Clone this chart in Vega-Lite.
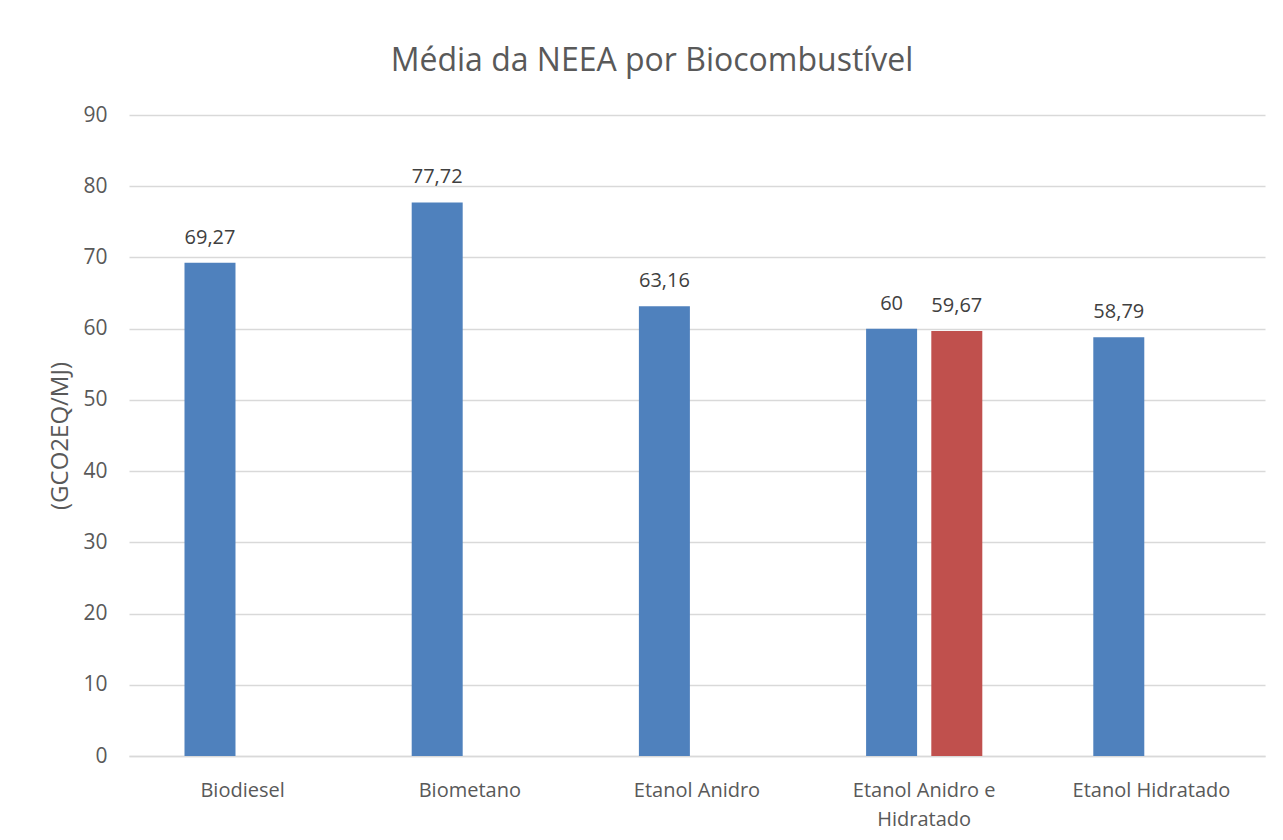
{
  "$schema": "https://vega.github.io/schema/vega-lite/v6.json",
  "width": 1136,
  "height": 641,
  "autosize": {"type": "none"},
  "padding": {"left": 129, "top": 115, "right": 18, "bottom": 84},
  "background": "white",
  "title": {
    "text": "Média da NEEA por Biocombustível",
    "font": "Open Sans",
    "fontSize": 32,
    "fontWeight": "normal",
    "color": "#595959",
    "anchor": "middle",
    "baseline": "alphabetic",
    "offset": 43,
    "dx": -45,
    "dy": 42
  },
  "data": {
    "values": [
      {"categoria": "Biodiesel", "serie": "Série 1", "valor": 69.27},
      {"categoria": "Biometano", "serie": "Série 1", "valor": 77.72},
      {"categoria": "Etanol Anidro", "serie": "Série 1", "valor": 63.16},
      {"categoria": "Etanol Anidro e Hidratado", "serie": "Série 1", "valor": 60},
      {"categoria": "Etanol Anidro e Hidratado", "serie": "Série 2", "valor": 59.67},
      {"categoria": "Etanol Hidratado", "serie": "Série 1", "valor": 58.79}
    ]
  },
  "encoding": {
    "x": {
      "field": "categoria",
      "type": "nominal",
      "sort": null,
      "scale": {"paddingInner": 0, "paddingOuter": 0},
      "axis": {
        "title": null,
        "labelAngle": 0,
        "labelFont": "Open Sans",
        "labelFontSize": 20,
        "labelColor": "#595959",
        "labelPadding": 24,
        "labelBaseline": "top",
        "labelLineHeight": 29,
        "labelExpr": "datum.label == 'Etanol Anidro e Hidratado' ? ['Etanol Anidro e', 'Hidratado'] : datum.label",
        "ticks": false,
        "domainColor": "#D9D9D9",
        "domainWidth": 1.3,
        "grid": false
      }
    },
    "xOffset": {
      "field": "serie",
      "type": "nominal",
      "scale": {"domain": ["Série 1", "Série 2"], "paddingInner": 0.218, "paddingOuter": 0.851}
    },
    "y": {
      "field": "valor",
      "type": "quantitative",
      "scale": {"domain": [0, 90], "nice": false},
      "axis": {
        "title": "(GCO2EQ/MJ)",
        "titleFont": "Open Sans",
        "titleFontSize": 24,
        "titleFontWeight": "normal",
        "titleColor": "#595959",
        "titlePadding": 10,
        "values": [0, 10, 20, 30, 40, 50, 60, 70, 80, 90],
        "labelFont": "Open Sans",
        "labelFontSize": 21,
        "labelColor": "#595959",
        "labelPadding": 22,
        "ticks": false,
        "domain": false,
        "gridColor": "#D9D9D9",
        "gridWidth": 1.3
      }
    },
    "color": {
      "field": "serie",
      "type": "nominal",
      "scale": {"domain": ["Série 1", "Série 2"], "range": ["#4F81BD", "#C0504D"]},
      "legend": null
    }
  },
  "layer": [
    {"mark": {"type": "bar"}},
    {
      "mark": {
        "type": "text",
        "font": "Open Sans",
        "fontSize": 20,
        "color": "#404040",
        "baseline": "alphabetic",
        "dy": -19
      },
      "encoding": {
        "text": {"field": "valor", "type": "quantitative", "format": "~g"},
        "color": {"value": "#404040"}
      }
    }
  ],
  "config": {
    "view": {"stroke": null},
    "locale": {
      "number": {"decimal": ",", "thousands": ".", "grouping": [3], "currency": ["R$", ""]}
    }
  }
}
